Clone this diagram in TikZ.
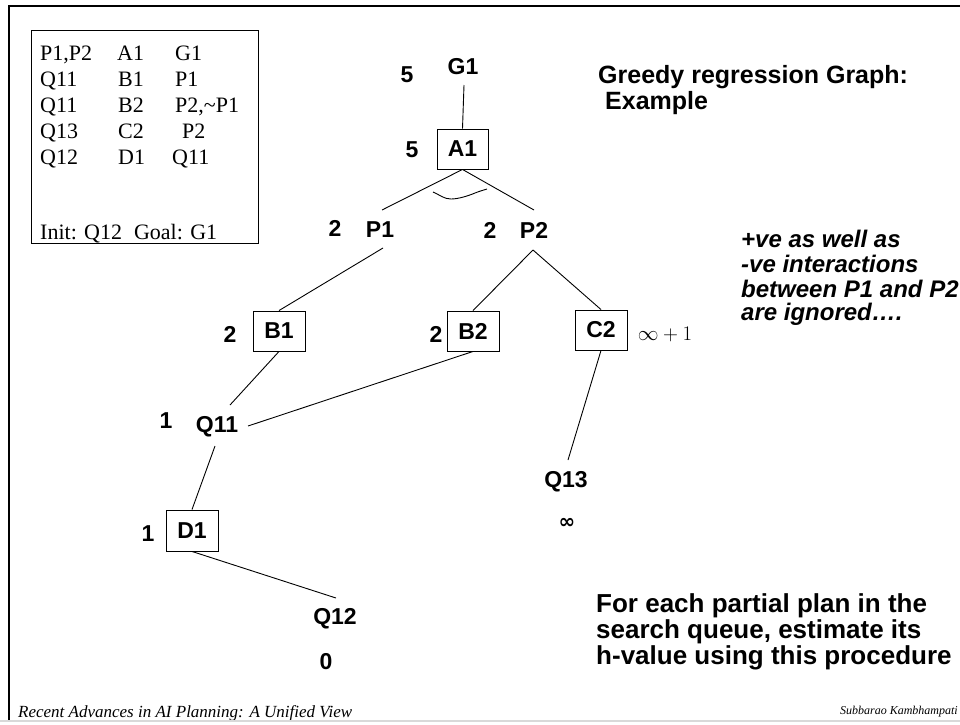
\documentclass[tikz,border=0pt]{standalone}
\usepackage{fontspec}
\setmainfont{Liberation Serif}
\newfontfamily\arial{Liberation Sans}
\newfontfamily\dejavu{DejaVu Sans}
\begin{document}
\begin{tikzpicture}[x=1pt,y=-1pt,
  lbl/.style={font=\arial\bfseries\fontsize{23}{26}\selectfont, inner sep=0pt},
  opbox/.style={draw, line width=0.9pt, inner sep=0pt, minimum width=52pt, minimum height=40pt, font=\arial\bfseries\fontsize{23}{26}\selectfont},
  conn/.style={line width=0.9pt},
  side/.style={font=\arial\bfseries\fontsize{25}{28}\selectfont, inner sep=0pt, anchor=west},
  sidei/.style={font=\arial\bfseries\itshape\fontsize{24}{26}\selectfont, inner sep=0pt, anchor=west},
  sideb/.style={font=\arial\bfseries\fontsize{26}{28}\selectfont, inner sep=0pt, anchor=west},
  cell/.style={font=\fontsize{22}{24}\selectfont, inner sep=0pt, anchor=base west},
  foot/.style={font=\itshape\fontsize{17}{18}\selectfont, inner sep=0pt, anchor=base west}
]
\useasboundingbox (0,0) rectangle (960,724);
\fill[white] (0,0) rectangle (960,724);
% frame
\draw[line width=2pt] (9,720) -- (9,6) -- (960,6);
\draw[line width=2pt, gray!30] (0,721) -- (960,721);

% operator table
\node[draw, line width=0.8pt, minimum width=227pt, minimum height=213pt, inner sep=0pt] (tbl) at (144.5,136.5) {};
\node[cell] (r1a) at (40,60) {P1,P2};
\node[cell] (r1b) at (117,60) {A1};
\node[cell] (r1c) at (175,60) {G1};
\node[cell] (r2a) at (40,86) {Q11};
\node[cell] (r2b) at (118,86) {B1};
\node[cell] (r2c) at (175,86) {P1};
\node[cell] (r3a) at (40,112) {Q11};
\node[cell] (r3b) at (118,112) {B2};
\node[cell] (r3c) at (175,112) {P2,\char"7E P1};
\node[cell] (r4a) at (40,138) {Q13};
\node[cell] (r4b) at (118,138) {C2};
\node[cell] (r4c) at (182,138) {P2};
\node[cell] (r5a) at (40,164) {Q12};
\node[cell] (r5b) at (118,164) {D1};
\node[cell] (r5c) at (172,164) {Q11};
\node[cell] (init) at (40,239) {Init: Q12\hspace{12pt}Goal: G1};

% graph nodes
\node[lbl] (G1) at (463,67) {G1};
\node[lbl] (wG1) at (407,75) {5};
\node[opbox, minimum width=51pt, minimum height=40pt] (A1) at (462.5,149) {A1};
\node[lbl] (wA1) at (412,150) {5};
\node[lbl] (P1) at (380,230) {P1};
\node[lbl] (wP1) at (335,228) {2};
\node[lbl] (P2) at (534,230) {P2};
\node[lbl] (wP2) at (490,230) {2};
\node[opbox] (B1) at (279,331) {B1};
\node[lbl] (wB1) at (230,334) {2};
\node[opbox] (B2) at (473,331) {B2};
\node[lbl] (wB2) at (436,334) {2};
\node[opbox] (C2) at (601,330) {C2};
\node[font=\fontsize{22}{26}\selectfont, inner sep=0pt] (wC2) at (665,334) {$\infty+1$};
\node[lbl] (Q11) at (217,427) {Q11};
\node[lbl] (wQ11) at (166,421) {1};
\node[opbox, minimum height=41pt] (D1) at (192,530.5) {D1};
\node[lbl] (wD1) at (148,534) {1};
\node[lbl] (Q12) at (335,619) {Q12};
\node[lbl] (wQ12) at (326,662) {0};
\node[lbl] (Q13) at (566,482) {Q13};
\node[font=\dejavu\bfseries\fontsize{20}{24}\selectfont, inner sep=0pt] (wQ13) at (567,523) {∞};

% connector end points
\coordinate (g1s) at (464,85);
\coordinate (p1n) at (382,210);
\coordinate (p2n) at (534,210);
\coordinate (p1s) at (383,248);
\coordinate (p2s) at (533,250);
\coordinate (q11n) at (230,405);
\coordinate (q11e) at (248,426);
\coordinate (q11s) at (215,446);
\coordinate (q12n) at (336,598);
\coordinate (q13n) at (568,460);

\draw[conn] (g1s) -- (A1.north);
\draw[conn] (A1.south) -- (p1n);
\draw[conn] (A1.south) -- (p2n);
\draw[conn] (p1s) -- (B1.north);
\draw[conn] (p2s) -- (B2.north);
\draw[conn] (p2s) -- (C2.north);
\draw[conn] (B1.south) -- (q11n);
\draw[conn] (B2.south) -- (q11e);
\draw[conn] (q11s) -- (D1.north);
\draw[conn] (D1.south) -- (q12n);
\draw[conn] (C2.south) -- (q13n);
% tilde between branches
\draw[conn] (433,192) .. controls (440,195) and (444,199) .. (451,199)
  .. controls (458,199) and (468,196) .. (475,193) .. controls (480,191) and (484,190) .. (487,189);

% side texts
\node[side] (t1) at (598,77) {Greedy regression Graph:};
\node[side] (t2) at (605,103) {Example};
\node[sidei] (i1) at (741,239) {+ve as well as};
\node[sidei] (i2) at (741,264) {-ve interactions};
\node[sidei] (i3) at (741,289) {between P1 and P2};
\node[sidei] (i4) at (741,314) {are ignored\dots.};
\node[sideb] (f1) at (596,606) {For each partial plan in the};
\node[sideb] (f2) at (596,632) {search queue, estimate its};
\node[sideb] (f3) at (596,658) {h-value using this procedure};

% footer
\begin{scope}
\clip (0,0) rectangle (960,719);
\node[foot] (ft1) at (18,717) {Recent Advances in AI Planning: A Unified View};
\node[foot, font=\itshape\fontsize{12}{14}\selectfont, anchor=base east] (ft2) at (958,714) {Subbarao Kambhampati};
\end{scope}
\end{tikzpicture}
\end{document}
